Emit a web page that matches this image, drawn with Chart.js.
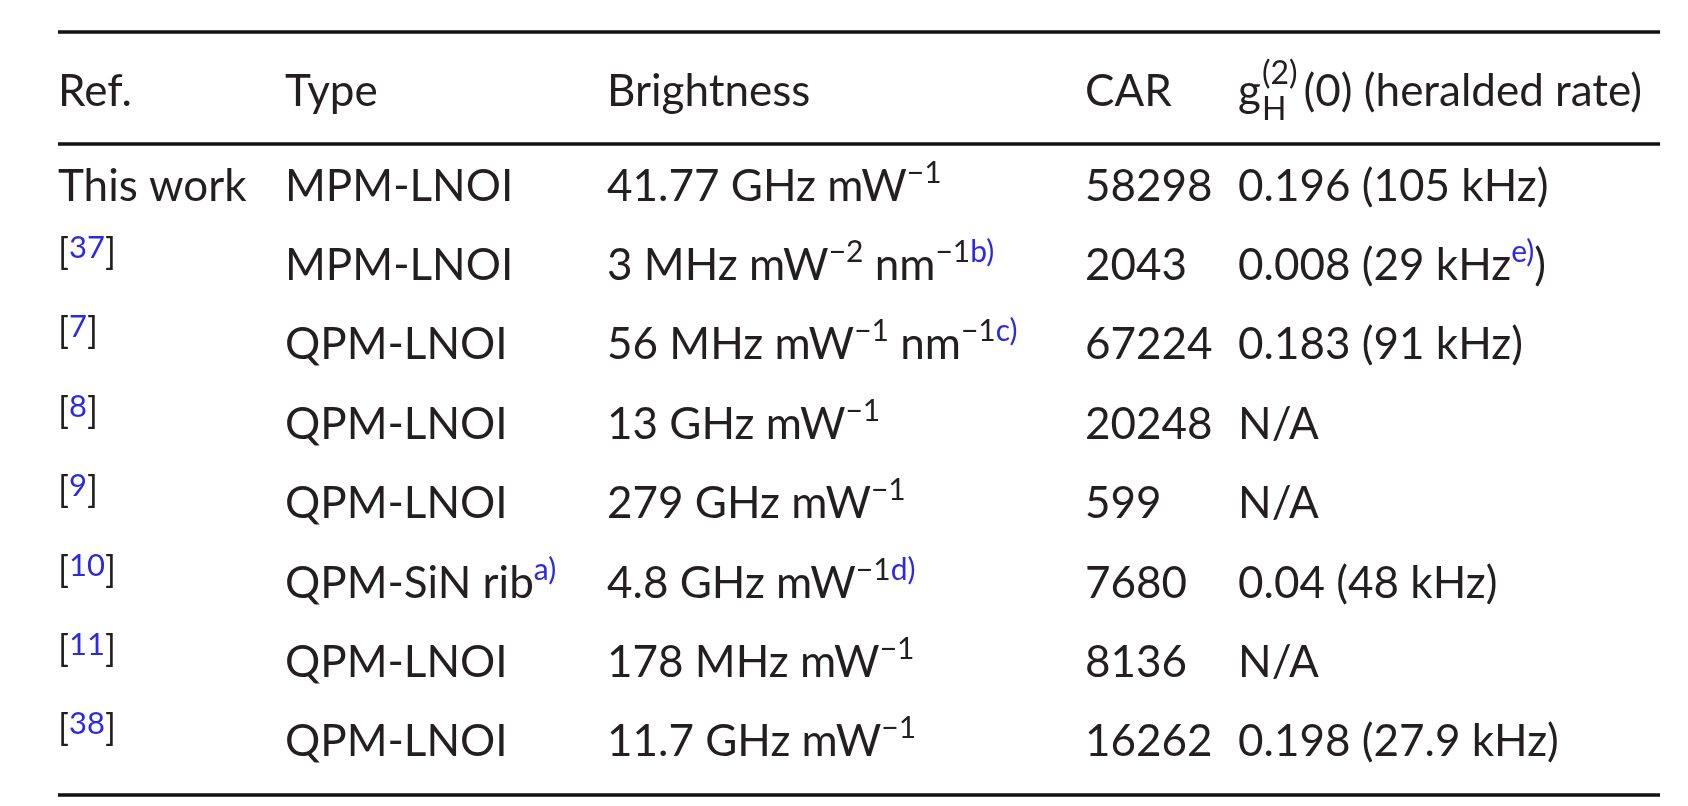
<!DOCTYPE html>
<html>
<head>
<meta charset="utf-8">
<title>Photon pair source comparison</title>
<script src="https://cdn.jsdelivr.net/npm/chart.js@4"></script>
<style>
  html, body { margin: 0; padding: 0; background: #ffffff; }
  #wrap { width: 1688px; height: 806px; position: relative; }
</style>
</head>
<body>
<div id="wrap"><canvas id="TableChart"></canvas></div>
<script>
// table content, one array per column
const headers = ['Ref.', 'Type', 'Brightness', 'CAR', 'g2'];
const refs = ['This work', '37', '7', '8', '9', '10', '11', '38'];
const types = ['MPM-LNOI', 'MPM-LNOI', 'QPM-LNOI', 'QPM-LNOI', 'QPM-LNOI', 'QPM-SiN rib', 'QPM-LNOI', 'QPM-LNOI'];
const typeNotes = [null, null, null, null, null, 'a)', null, null];
const brightness = ['41.77 GHz mW^−1', '3 MHz mW^−2 nm^−1', '56 MHz mW^−1 nm^−1', '13 GHz mW^−1',
                    '279 GHz mW^−1', '4.8 GHz mW^−1', '178 MHz mW^−1', '11.7 GHz mW^−1'];
const brightnessNotes = [null, 'b)', 'c)', null, null, 'd)', null, null];
const car = [58298, 2043, 67224, 20248, 599, 7680, 8136, 16262];
const g2 = ['0.196', '0.008', '0.183', null, null, '0.04', null, '0.198'];
const heraldedRate = ['105 kHz', '29 kHz', '91 kHz', null, null, '48 kHz', null, '27.9 kHz'];
const rateNotes = [null, 'e)', null, null, null, null, null, null];

// column left edges, in percent of the table width
const colStart = [0, 14.17, 34.27, 64.11, 73.66];

const FONT = 'Lato, "Open Sans", sans-serif';
const MAIN = 44, SUP = 30;
const INK = '#231f20', BLUE = '#2a2ae6';

function font(size) { return size + 'px ' + FONT; }

// draw a list of runs {t, size, dy, color} starting at x on a baseline
function drawRuns(ctx, x, y, runs) {
    runs.forEach(r => {
        ctx.font = font(r.size || MAIN);
        ctx.fillStyle = r.color || INK;
        ctx.fillText(r.t, x, y - (r.dy || 0));
        x += ctx.measureText(r.t).width;
    });
    return x;
}

function note(t) { return {t: t, size: SUP, dy: 18, color: BLUE}; }

// "mW^−1" -> normal text + superscript
function unitRuns(s) {
    const runs = [];
    s.split(/(\^\S+)/).forEach(p => {
        if (!p) return;
        if (p[0] === '^') runs.push({t: p.slice(1), size: SUP, dy: 18});
        else runs.push({t: p});
    });
    return runs;
}

function cellRuns(col, i) {
    if (col === 0) {
        if (i === 0) return [{t: refs[i]}];
        return [{t: '[', size: 36, dy: 15}, {t: refs[i], size: 31, dy: 22, color: BLUE}, {t: ']', size: 36, dy: 15}];
    }
    if (col === 1) {
        const r = [{t: types[i]}];
        if (typeNotes[i]) r.push(note(typeNotes[i]));
        return r;
    }
    if (col === 2) {
        const r = unitRuns(brightness[i]);
        if (brightnessNotes[i]) r.push(note(brightnessNotes[i]));
        return r;
    }
    if (col === 3) return [{t: String(car[i])}];
    if (g2[i] === null) return [{t: 'N/A'}];
    const r = [{t: g2[i] + ' (' + heraldedRate[i]}];
    if (rateNotes[i]) r.push(note(rateNotes[i]));
    r.push({t: ')'});
    return r;
}

const tablePlugin = {
    id: 'tablePlugin',
    afterDatasetsDraw(chart) {
        const ctx = chart.ctx;
        const area = chart.chartArea;
        const xs = chart.scales.x;
        ctx.save();
        ctx.textBaseline = 'alphabetic';
        ctx.textAlign = 'left';

        // body cells, placed on the points of each column dataset
        chart.data.datasets.forEach((ds, c) => {
            const meta = chart.getDatasetMeta(c);
            meta.data.forEach((pt, i) => {
                drawRuns(ctx, pt.x, pt.y + 16, cellRuns(c, i));
            });
        });

        // header row
        const hy = area.top - 39;
        headers.forEach((h, c) => {
            const x = xs.getPixelForValue(colStart[c]);
            if (h !== 'g2') {
                drawRuns(ctx, x, hy, [{t: h}]);
                return;
            }
            ctx.font = font(MAIN);
            ctx.fillStyle = INK;
            ctx.fillText('g', x, hy);
            const gx = x + ctx.measureText('g').width + 1;
            ctx.font = font(32);
            ctx.fillText('(2)', gx, hy - 22);
            ctx.fillText('H', gx, hy + 14);
            const w = Math.max(ctx.measureText('(2)').width, ctx.measureText('H').width);
            drawRuns(ctx, gx + w + 6, hy, [{t: '(0) (heralded rate)'}]);
        });

        // booktabs style rules
        ctx.strokeStyle = '#111111';
        ctx.lineWidth = 3.5;
        [area.top - 113, area.top - 1, area.bottom + 15].forEach(y => {
            ctx.beginPath();
            ctx.moveTo(area.left, y);
            ctx.lineTo(area.right, y);
            ctx.stroke();
        });
        ctx.restore();
    }
};

const tableConfig = {
    type: 'scatter',
    data: {
        datasets: headers.map((h, c) => ({
            label: h,
            data: refs.map(r => ({x: colStart[c], y: r})),
            pointRadius: 0,
            pointHoverRadius: 0
        }))
    },
    options: {
        responsive: true,
        maintainAspectRatio: false,
        animation: false,
        layout: {padding: {left: 58, right: 28, top: 145, bottom: 26}},
        plugins: {legend: {display: false}, tooltip: {enabled: false}},
        scales: {
            x: {type: 'linear', min: 0, max: 100, display: false},
            y: {type: 'category', labels: refs, offset: true, display: false}
        }
    },
    plugins: [tablePlugin]
};

new Chart(document.getElementById('TableChart').getContext('2d'), tableConfig);
</script>
</body>
</html>
